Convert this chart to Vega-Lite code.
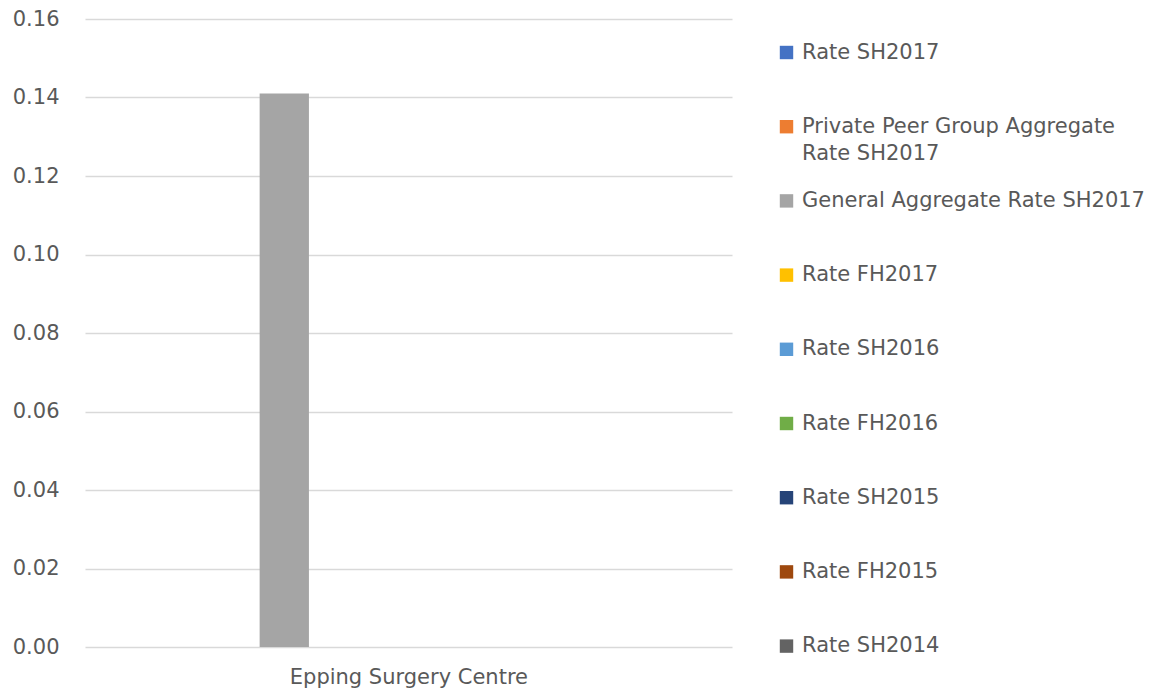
{
  "$schema": "https://vega.github.io/schema/vega-lite/v6.json",
  "width": 647,
  "height": 628,
  "padding": {"left": 12, "top": 8, "right": 5, "bottom": 5},
  "background": "white",
  "config": {
    "font": "DejaVu Sans",
    "view": {"stroke": null},
    "style": {"guide-label": {"lineHeight": 27}}
  },
  "data": {
    "values": [
      {"centre": "Epping Surgery Centre", "series": "Rate SH2017", "rate": 0},
      {"centre": "Epping Surgery Centre", "series": "Private Peer Group Aggregate Rate SH2017", "rate": 0},
      {"centre": "Epping Surgery Centre", "series": "General Aggregate Rate SH2017", "rate": 0.141},
      {"centre": "Epping Surgery Centre", "series": "Rate FH2017", "rate": 0},
      {"centre": "Epping Surgery Centre", "series": "Rate SH2016", "rate": 0},
      {"centre": "Epping Surgery Centre", "series": "Rate FH2016", "rate": 0},
      {"centre": "Epping Surgery Centre", "series": "Rate SH2015", "rate": 0},
      {"centre": "Epping Surgery Centre", "series": "Rate FH2015", "rate": 0},
      {"centre": "Epping Surgery Centre", "series": "Rate SH2014", "rate": 0}
    ]
  },
  "mark": {"type": "bar"},
  "encoding": {
    "x": {
      "field": "centre",
      "type": "nominal",
      "scale": {"paddingInner": 0, "paddingOuter": 0.2291, "align": 0.374},
      "axis": {
        "title": null,
        "labelAngle": 0,
        "ticks": false,
        "domain": false,
        "labelFontSize": 21,
        "labelColor": "#595959",
        "labelPadding": 19,
        "labelOffset": 26,
        "labelLimit": 500
      }
    },
    "xOffset": {
      "field": "series",
      "type": "nominal",
      "sort": ["Rate SH2017", "Private Peer Group Aggregate Rate SH2017", "General Aggregate Rate SH2017", "Rate FH2017", "Rate SH2016", "Rate FH2016", "Rate SH2015", "Rate FH2015", "Rate SH2014"],
      "scale": {"paddingInner": 0, "paddingOuter": 0}
    },
    "y": {
      "field": "rate",
      "type": "quantitative",
      "scale": {"domain": [0, 0.16], "nice": false},
      "axis": {
        "title": null,
        "values": [0, 0.02, 0.04, 0.06, 0.08, 0.1, 0.12, 0.14, 0.16],
        "format": ".2f",
        "ticks": false,
        "domain": false,
        "labelFontSize": 21,
        "labelColor": "#595959",
        "labelPadding": 26,
        "gridColor": "#d9d9d9",
        "gridWidth": 1.5
      }
    },
    "color": {
      "field": "series",
      "type": "nominal",
      "scale": {
        "domain": ["Rate SH2017", "Private Peer Group Aggregate Rate SH2017", "General Aggregate Rate SH2017", "Rate FH2017", "Rate SH2016", "Rate FH2016", "Rate SH2015", "Rate FH2015", "Rate SH2014"],
        "range": ["#4472C4", "#ED7D31", "#A5A5A5", "#FFC000", "#5B9BD5", "#70AD47", "#264478", "#9E480E", "#636363"]
      },
      "legend": {
        "title": null,
        "orient": "none",
        "legendX": 691,
        "legendY": 23,
        "gridAlign": "all",
        "symbolType": "square",
        "symbolSize": 180,
        "symbolStrokeWidth": 0,
        "labelFontSize": 21,
        "labelColor": "#595959",
        "labelLimit": 500,
        "labelOffset": 5,
        "rowPadding": 25.2,
        "labelExpr": "datum.label == 'Private Peer Group Aggregate Rate SH2017' ? ['Private Peer Group Aggregate', 'Rate SH2017'] : datum.label"
      }
    }
  }
}
